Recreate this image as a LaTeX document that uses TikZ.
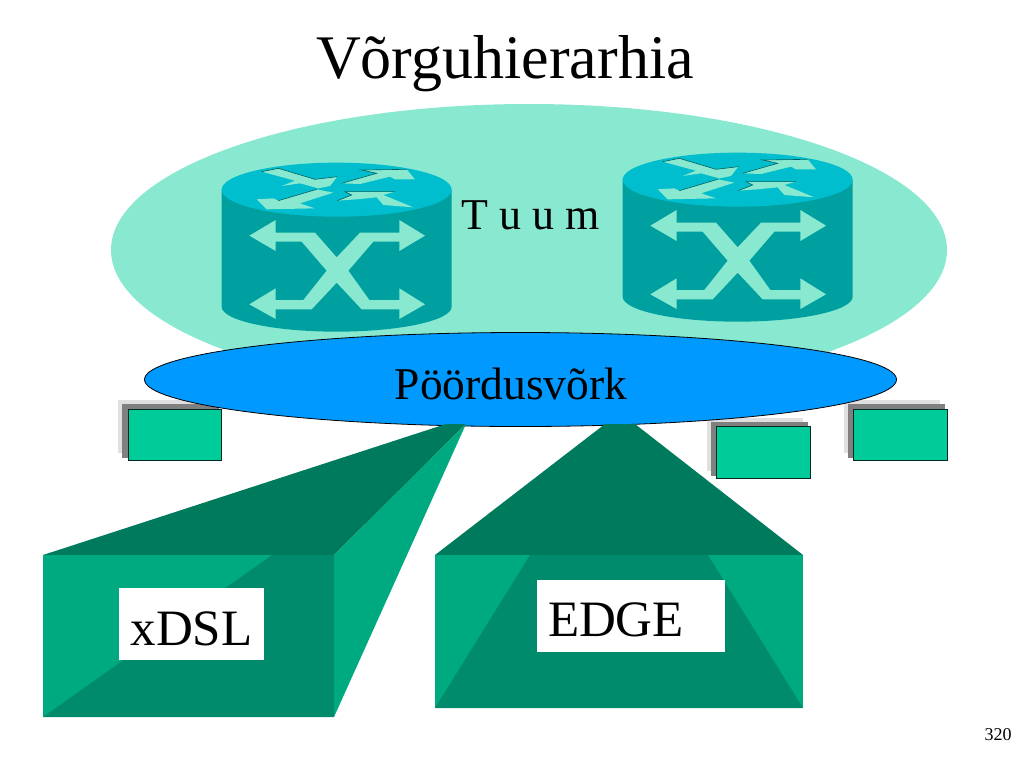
\documentclass[tikz,border=0pt]{standalone}
\usepackage{fontspec}
\setmainfont{Liberation Serif}
\usetikzlibrary{positioning,shapes.geometric}
\definecolor{coregreen}{RGB}{136,232,208}
\definecolor{routertop}{RGB}{0,190,205}
\definecolor{routerside}{RGB}{0,160,160}
\definecolor{accessblue}{RGB}{0,153,255}
\definecolor{hostgreen}{RGB}{0,204,153}
\definecolor{hostgray}{RGB}{128,128,128}
\definecolor{hostlight}{RGB}{224,224,224}
\definecolor{boxdark}{RGB}{0,122,92}
\definecolor{boxfront}{RGB}{0,170,128}
\definecolor{boxmid}{RGB}{0,140,108}
\tikzset{
  titletext/.style={font=\fontsize{62}{62}\selectfont,inner sep=0pt},
  midtext/.style={font=\fontsize{44}{44}\selectfont,inner sep=0pt},
  labelbox/.style={fill=white,inner sep=0pt,minimum height=72pt,text depth=0pt,font=\fontsize{51}{51}\selectfont},
  hostbox/.style={draw=black!80!hostgreen,fill=hostgreen,line width=0.8pt},
  arrowedge/.style={draw=routerside!60!black,line width=0.6pt},
  router/.pic={
    % coordinates are 3x the pixels, from the corner of the picture part
    \fill[routerside] (35,119) -- (35,470) arc[start angle=180,end angle=0,x radius=345,y radius=75]
      -- (725,119) -- cycle;
    \fill[routertop] (380,119) ellipse[x radius=345,y radius=81];
    \fill[coregreen] (118,257) -- (197,210) -- (197,248) -- (315,248) -- (380,322) -- (450,248)
      -- (568,248) -- (568,210) -- (645,257) -- (568,303) -- (568,275) -- (490,275) -- (415,362)
      -- (478,450) -- (568,450) -- (568,415) -- (645,463) -- (568,507) -- (568,478) -- (455,478)
      -- (380,398) -- (305,478) -- (197,478) -- (197,507) -- (118,463) -- (197,415) -- (197,450)
      -- (280,450) -- (350,362) -- (275,275) -- (197,275) -- (197,303) -- cycle;
    \fill[coregreen] (155,65) -- (205,55) -- (315,88) -- (382,80) -- (360,108) -- (325,115) -- (270,100) -- (215,108) -- (255,92) -- cycle;
    \fill[coregreen] (615,88) -- (590,58) -- (455,60) -- (500,70) -- (395,100) -- (450,102) -- (540,80) -- (555,88) -- cycle;
    \fill[coregreen] (140,148) -- (170,178) -- (315,175) -- (270,160) -- (370,128) -- (320,118) -- (205,152) -- (190,145) -- cycle;
    \fill[coregreen] (382,152) -- (440,148) -- (500,142) -- (520,165) -- (610,172) -- (520,135) -- (555,125) -- (405,125) -- (425,135) -- cycle;
    \draw[arrowedge] (155,65) -- (205,55) -- (315,88) -- (382,80);
    \draw[arrowedge] (395,100) -- (500,70) -- (455,60) -- (590,58);
    \draw[arrowedge] (205,152) -- (320,118);
    \draw[arrowedge] (382,152) -- (425,135) -- (405,125) -- (555,125);
  }
}
\begin{document}
\begin{tikzpicture}[x=1pt,y=-1pt]
  \useasboundingbox (0,0) rectangle (1024,768);
  \node[titletext] (title) at (505,64) {Võrguhierarhia};
  \fill[coregreen] (529,250) ellipse[x radius=418,y radius=146];
  \pic at (210,150) [scale=1/3] {router};
  \pic at (611,140) [scale=1/3] {router};
  \node[midtext,anchor=base west] (core) at (461,229) {T u u m};
  % hosts
  \foreach \hx/\hy in {118/400,707/418,844/400}{
    \fill[hostlight] (\hx,\hy) rectangle ++(96,53);
    \fill[hostgray] (\hx+4,\hy+4) rectangle ++(97,54);
  }
  \draw[hostbox] (128,409) rectangle (221,460);
  \draw[hostbox] (716,426) rectangle (810,478);
  \draw[hostbox] (853,409) rectangle (947,460);
  \node[draw=black,line width=0.8pt,fill=accessblue,ellipse,minimum width=752pt,minimum height=94pt,inner sep=0pt] (access) at (520.5,379.5) {};
  \node[midtext,font=\fontsize{45.5}{45.5}\selectfont] at (511,384) (accesstext) {Pöördusvõrk};
  % xDSL box
  \fill[boxdark] (43,555) -- (446,424) -- (466,424) -- (334,555) -- cycle;
  \fill[boxfront] (466,424) -- (334,555) -- (334,717) -- cycle;
  \fill[boxfront] (43,555) rectangle (334,717);
  \fill[boxmid] (43,717) -- (334,717) -- (334,555) -- (272,555) -- cycle;
  \node[labelbox,minimum width=145pt,text height=42pt] (xdsl) at (191.5,624) {xDSL};
  % EDGE box
  \fill[boxdark] (435,555) -- (605,424) -- (635,424) -- (803,555) -- cycle;
  \fill[boxfront] (435,555) rectangle (803,708);
  \fill[boxmid] (435,708) -- (530,555) -- (708,555) -- (803,708) -- cycle;
  \node[labelbox,inner xsep=11pt,text width=166pt,align=left,text height=40pt] (edge) at (631,616) {EDGE};
  \node[inner sep=0pt,font=\fontsize{18}{18}\selectfont] (page) at (998,735) {320};
\end{tikzpicture}
\end{document}
